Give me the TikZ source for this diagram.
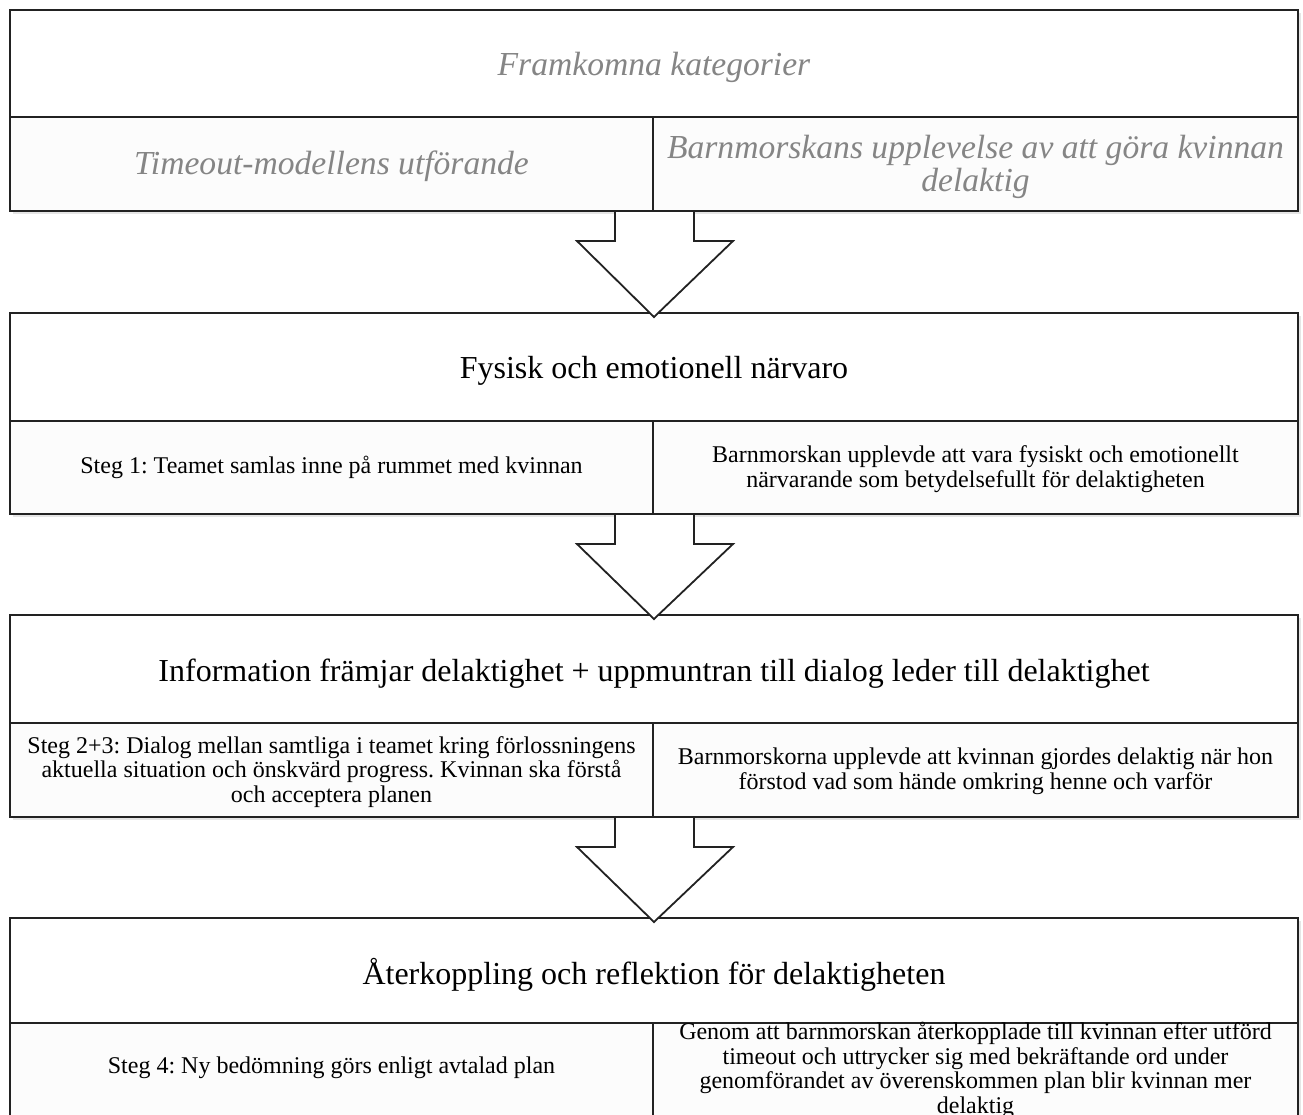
\documentclass[tikz,border=0pt]{standalone}
\usepackage{fontspec}
\setmainfont{Liberation Serif}
\usetikzlibrary{calc,shadows}
\definecolor{edge}{HTML}{222222}
\definecolor{hgray}{HTML}{858585}
\definecolor{cellfill}{HTML}{FCFCFC}
\frenchspacing
\tikzset{
  px/.style={x=0.5pt,y=-0.5pt},
  hdrbox/.style={draw=edge,line width=1pt,fill=white,minimum width=644pt,minimum height=#1,inner sep=0pt},
  lcell/.style={draw=edge,line width=1pt,fill=cellfill,minimum width=321.5pt,minimum height=#1,inner sep=0pt},
  rcell/.style={draw=edge,line width=1pt,fill=cellfill,minimum width=322.5pt,minimum height=#1,inner sep=0pt},
  shade/.style={fill=black,opacity=0.10},
  ittext/.style={text=hgray,font=\fontsize{16.8}{16.5}\selectfont\itshape,align=center},
  bigtext/.style={font=\fontsize{16}{19}\selectfont,align=center},
  smalltext/.style={font=\fontsize{12}{12.3}\selectfont\frenchspacing,align=center},
  blockarrow/.style={draw=edge,line width=0.9pt,fill=white,line join=miter},
}
\begin{document}
\begin{tikzpicture}[px]
\useasboundingbox[fill=white] (0,0) rectangle (1303,1115);
% shadows
\foreach \t/\b in {10/211,313/514,615/817,918/1120}{
  \fill[shade] (13,\t+3) rectangle (1301,\b+3);
}
% Box 1
\node[hdrbox=53.5pt] (h1) at (654,63.5) {};
\node[lcell=47pt] (l1) at (331.5,164) {};
\node[rcell=47pt] (r1) at (975.5,164) {};
\node[ittext] (h1t) at ($(h1.center)+(0,4)$) {Framkomna kategorier};
\node[ittext] (l1t) at ($(l1.center)+(0,2)$) {Timeout-modellens utförande};
\node[ittext] (r1t) at ($(r1.center)+(0,3)$) {Barnmorskans upplevelse av att göra kvinnan\\delaktig};
% Box 2
\node[hdrbox=54pt] (h2) at (654,367) {};
\node[lcell=46.5pt] (l2) at (331.5,467.5) {};
\node[rcell=46.5pt] (r2) at (975.5,467.5) {};
\node[bigtext] (h2t) at ($(h2.center)+(0,4)$) {Fysisk och emotionell närvaro};
\node[smalltext] (l2t) at (l2.center) {Steg 1: Teamet samlas inne på rummet med kvinnan};
\node[smalltext] (r2t) at ($(r2.center)+(0,1.5)$) {Barnmorskan upplevde att vara fysiskt och emotionellt\\närvarande som betydelsefullt för delaktigheten};
% Box 3
\node[hdrbox=54pt] (h3) at (654,669) {};
\node[lcell=47pt] (l3) at (331.5,770) {};
\node[rcell=47pt] (r3) at (975.5,770) {};
\node[bigtext] (h3t) at ($(h3.center)+(0,4.5)$) {Information främjar delaktighet + uppmuntran till dialog leder till delaktighet};
\node[smalltext] (l3t) at ($(l3.center)+(0,2)$) {Steg 2+3: Dialog mellan samtliga i teamet kring förlossningens\\aktuella situation och önskvärd progress. Kvinnan ska förstå\\och acceptera planen};
\node[smalltext] (r3t) at ($(r3.center)+(0,1.5)$) {Barnmorskorna upplevde att kvinnan gjordes delaktig när hon\\förstod vad som hände omkring henne och varför};
% Box 4
\node[hdrbox=52.5pt] (h4) at (654,970.5) {};
\node[lcell=48.5pt] (l4) at (331.5,1071.5) {};
\node[rcell=48.5pt] (r4) at (975.5,1071.5) {};
\node[bigtext] (h4t) at ($(h4.center)+(0,4)$) {Återkoppling och reflektion för delaktigheten};
\node[smalltext] (l4t) at (331.5,1068) {Steg 4: Ny bedömning görs enligt avtalad plan};
\node[smalltext] (r4t) at (975.5,1070.5) {Genom att barnmorskan återkopplade till kvinnan efter utförd\\timeout och uttrycker sig med bekräftande ord under\\genomförandet av överenskommen plan blir kvinnan mer\\delaktig};
% block arrows
\foreach \a/\b in {l1/h2,l2/h3,l3/h4}{
  \filldraw[blockarrow]
    ($(\a.south east)+(-39,0)$) -- ++(0,29) -- ++(-38,0)
    -- ($(\b.north)+(0,5)$)
    -- ($(\a.south east)+(79,29)$) -- ++(-39,0) -- ++(0,-29);
}
\end{tikzpicture}
\end{document}
